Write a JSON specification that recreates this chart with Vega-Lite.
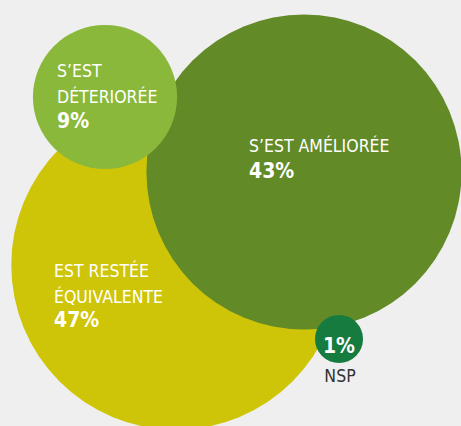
{
  "$schema": "https://vega.github.io/schema/vega-lite/v6.json",
  "width": 461,
  "height": 426,
  "padding": 0,
  "autosize": {"type": "none"},
  "background": "#efefef",
  "config": {"view": {"stroke": null}},
  "datasets": {
    "bubbles": [
      {"cat": "Est restée équivalente", "value": 47, "cx": 176, "cy": 265},
      {"cat": "S'est améliorée", "value": 43, "cx": 304, "cy": 172},
      {"cat": "S'est déteriorée", "value": 9, "cx": 105, "cy": 97},
      {"cat": "NSP", "value": 1, "cx": 339, "cy": 339}
    ],
    "labels": [
      {"kind": "name", "text": "S’EST", "x": 57, "y": 77},
      {"kind": "name", "text": "DÉTERIORÉE", "x": 57, "y": 103},
      {"kind": "pct", "text": "9%", "x": 57, "y": 128},
      {"kind": "name", "text": "S’EST AMÉLIORÉE", "x": 249, "y": 152},
      {"kind": "pct", "text": "43%", "x": 249, "y": 178},
      {"kind": "name", "text": "EST RESTÉE", "x": 54, "y": 277},
      {"kind": "name", "text": "ÉQUIVALENTE", "x": 54, "y": 303},
      {"kind": "pct", "text": "47%", "x": 54, "y": 327},
      {"kind": "nsppct", "text": "1%", "x": 339, "y": 353},
      {"kind": "nsp", "text": "NSP", "x": 340, "y": 382}
    ]
  },
  "layer": [
    {
      "data": {"name": "bubbles"},
      "mark": {"type": "circle", "opacity": 1},
      "encoding": {
        "x": {"field": "cx", "type": "quantitative", "scale": {"domain": [0, 461], "nice": false, "zero": false}, "axis": null},
        "y": {"field": "cy", "type": "quantitative", "scale": {"domain": [0, 426], "nice": false, "zero": false, "reverse": true}, "axis": null},
        "size": {"field": "value", "type": "quantitative", "scale": {"type": "linear", "domain": [0, 100], "range": [0, 231000]}, "legend": null},
        "color": {"field": "cat", "type": "nominal", "legend": null,
          "scale": {"domain": ["Est restée équivalente", "S'est améliorée", "S'est déteriorée", "NSP"],
                    "range": ["#cfc508", "#628a27", "#8ab83a", "#167b3e"]}}
      }
    },
    {
      "data": {"name": "labels"},
      "transform": [{"filter": "datum.kind === 'name'"}],
      "mark": {"type": "text", "align": "left", "baseline": "alphabetic", "font": "DejaVu Sans Condensed, sans-serif", "fontSize": 17.5, "color": "#ffffff"},
      "encoding": {
        "x": {"field": "x", "type": "quantitative"},
        "y": {"field": "y", "type": "quantitative"},
        "text": {"field": "text"}
      }
    },
    {
      "data": {"name": "labels"},
      "transform": [{"filter": "datum.kind === 'pct'"}],
      "mark": {"type": "text", "align": "left", "baseline": "alphabetic", "font": "DejaVu Sans Condensed, sans-serif", "fontWeight": "bold", "fontSize": 21, "color": "#ffffff"},
      "encoding": {
        "x": {"field": "x", "type": "quantitative"},
        "y": {"field": "y", "type": "quantitative"},
        "text": {"field": "text"}
      }
    },
    {
      "data": {"name": "labels"},
      "transform": [{"filter": "datum.kind === 'nsppct'"}],
      "mark": {"type": "text", "align": "center", "baseline": "alphabetic", "font": "DejaVu Sans Condensed, sans-serif", "fontWeight": "bold", "fontSize": 21, "color": "#ffffff"},
      "encoding": {
        "x": {"field": "x", "type": "quantitative"},
        "y": {"field": "y", "type": "quantitative"},
        "text": {"field": "text"}
      }
    },
    {
      "data": {"name": "labels"},
      "transform": [{"filter": "datum.kind === 'nsp'"}],
      "mark": {"type": "text", "align": "center", "baseline": "alphabetic", "font": "DejaVu Sans Condensed, sans-serif", "fontSize": 17.5, "color": "#333333"},
      "encoding": {
        "x": {"field": "x", "type": "quantitative"},
        "y": {"field": "y", "type": "quantitative"},
        "text": {"field": "text"}
      }
    }
  ]
}
